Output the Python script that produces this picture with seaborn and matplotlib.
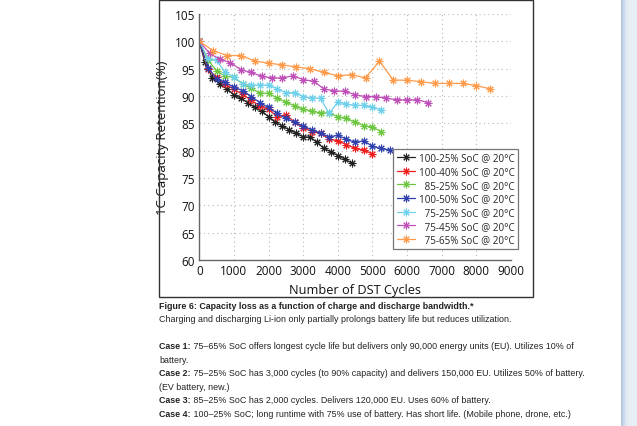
import numpy as np
import pandas as pd
import matplotlib
matplotlib.use("Agg")
import matplotlib.pyplot as plt
from matplotlib.patches import Rectangle
import seaborn as sns

# cycle positions / retention values
series_names = ["100-25% SoC @ 20°C", "100-40% SoC @ 20°C", "85-25% SoC @ 20°C",
                "100-50% SoC @ 20°C", "75-25% SoC @ 20°C", "75-45% SoC @ 20°C",
                "75-65% SoC @ 20°C"]
series_colors = ["#222222", "#f01c1c", "#6cc640", "#2f3fae", "#6ed0ea", "#bf4fb8", "#ff9a4a"]

cyc_100_25 = [0, 160, 380, 590, 790, 1000, 1200, 1400, 1600, 1800, 2000, 2200, 2400,
              2600, 2800, 3000, 3200, 3400, 3600, 3800, 4000, 4200, 4400]
ret_100_25 = [100, 96.2, 93.3, 92.2, 91.3, 90.2, 89.6, 88.8, 87.9, 87.2, 86.2, 85.2, 84.5,
              83.8, 83.2, 82.5, 82.5, 81.5, 80.4, 79.8, 79.1, 78.5, 77.7]

cyc_250 = [0, 250, 500, 750, 1000, 1250, 1500, 1750, 2000, 2250, 2500, 2750, 3000,
           3250, 3500, 3750, 4000, 4250, 4500, 4750, 5000, 5250, 5500]

cyc_100_40 = cyc_250[:21]
ret_100_40 = [100, 94.9, 93.4, 92.2, 91.2, 90.3, 89.2, 88.2, 87.6, 86.2, 86.6, 85.2, 84.2,
              83.5, 83.2, 82.1, 81.8, 81.1, 80.4, 80.1, 79.4]

cyc_85_25 = cyc_250[:22]
ret_85_25 = [100, 96.6, 94.6, 93.6, 93.4, 92.2, 91.4, 90.5, 90.5, 89.6, 88.9, 88.2, 87.6,
             87.2, 86.9, 86.9, 86.2, 85.9, 85.2, 84.6, 84.3, 83.5]

cyc_100_50 = cyc_250
ret_100_50 = [100, 95.2, 93.1, 92.5, 91.6, 91.0, 89.9, 88.8, 87.9, 86.8, 85.9, 85.2, 84.5,
              83.8, 83.2, 82.5, 82.8, 82.1, 81.5, 81.8, 80.8, 80.4, 80.1]

cyc_75_25 = cyc_250[:22]
ret_75_25 = [100, 96.9, 96.5, 94.3, 93.5, 92.2, 92.0, 92.0, 92.0, 91.3, 90.6, 90.6, 89.9,
             89.6, 89.6, 86.8, 88.9, 88.5, 88.3, 88.3, 87.9, 87.5]

cyc_75_45 = [0, 300, 600, 900, 1200, 1500, 1800, 2100, 2400, 2700, 3000, 3300, 3600,
             3900, 4200, 4500, 4800, 5100, 5400, 5700, 6000, 6300, 6600]
ret_75_45 = [100, 97.8, 96.7, 96.1, 94.8, 94.3, 93.6, 93.3, 93.3, 93.7, 93.0, 92.7, 91.3,
             90.9, 90.9, 90.2, 89.9, 89.9, 89.6, 89.3, 89.3, 89.3, 88.8]

cyc_75_65 = [0, 400, 800, 1200, 1600, 2000, 2400, 2800, 3200, 3600, 4000, 4400, 4800,
             5200, 5600, 6000, 6400, 6800, 7200, 7600, 8000, 8400]
ret_75_65 = [100, 98.3, 97.4, 97.4, 96.4, 96.0, 95.7, 95.3, 95.0, 94.3, 93.7, 93.9, 93.3,
             96.4, 92.9, 92.9, 92.6, 92.3, 92.3, 92.3, 91.9, 91.3]

all_cycles = [cyc_100_25, cyc_100_40, cyc_85_25, cyc_100_50, cyc_75_25, cyc_75_45, cyc_75_65]
all_ret = [ret_100_25, ret_100_40, ret_85_25, ret_100_50, ret_75_25, ret_75_45, ret_75_65]

x_ticks = [0, 1000, 2000, 3000, 4000, 5000, 6000, 7000, 8000, 9000]
y_ticks = [60, 65, 70, 75, 80, 85, 90, 95, 100, 105]

caption_title = "Figure 6: Capacity loss as a function of charge and discharge bandwidth.*"
caption_sub = "Charging and discharging Li-ion only partially prolongs battery life but reduces utilization."
case_lines = [
    ("Case 1:", " 75–65% SoC offers longest cycle life but delivers only 90,000 energy units (EU). Utilizes 10% of"),
    ("", "battery."),
    ("Case 2:", " 75–25% SoC has 3,000 cycles (to 90% capacity) and delivers 150,000 EU. Utilizes 50% of battery."),
    ("", "(EV battery, new.)"),
    ("Case 3:", " 85–25% SoC has 2,000 cycles. Delivers 120,000 EU. Uses 60% of battery."),
    ("Case 4:", " 100–25% SoC; long runtime with 75% use of battery. Has short life. (Mobile phone, drone, etc.)"),
]

sns.set_style("white")
plt.rcParams["font.family"] = ["Open Sans", "DejaVu Sans"]

W, H = 637, 427
fig = plt.figure(figsize=(W / 100, H / 100), dpi=100)
ax = fig.add_axes([199.3 / W, 1 - 261 / H, (511 - 199.3) / W, (261 - 15) / H])

frames = []
for name, xs, ys in zip(series_names, all_cycles, all_ret):
    frames.append(pd.DataFrame({"cycles": xs, "retention": ys, "series": name}))
df = pd.concat(frames, ignore_index=True)

for name, col in zip(series_names, series_colors):
    sub = df[df["series"] == name]
    # pad label so the legend texts end in line (like matlab)
    lab = name.rjust(18, "\u2007")
    sns.lineplot(data=sub, x="cycles", y="retention", ax=ax, color=col, lw=0.9,
                 marker=(8, 2, 0), markersize=5.5, markeredgecolor=col, markeredgewidth=0.75,
                 sort=False, estimator=None, label=lab)

ax.set_xlim(0, 9000)
ax.set_ylim(60, 105)
ax.set_xticks(x_ticks)
ax.set_yticks(y_ticks)
ax.grid(True, color="#b8b8b8", linestyle=(0, (1, 3)), linewidth=0.8)
for s in ["top", "right"]:
    ax.spines[s].set_visible(False)
for s in ["left", "bottom"]:
    ax.spines[s].set_color("#666666")
    ax.spines[s].set_linewidth(1.0)
ax.tick_params(direction="in", length=3, width=0.6, color="#666666", labelsize=8.5,
               labelcolor="#111111", pad=3)
ax.set_xlabel("Number of DST Cycles", fontsize=9.2, color="#111111", labelpad=4)
ax.set_ylabel("1C Capacity Retention(%)", fontsize=9.5, color="#111111", labelpad=4)

leg = ax.legend(loc="upper right", bbox_to_anchor=(1.038, 0.47), fontsize=7.1,
                handlelength=1.9, handletextpad=0.35, labelspacing=0.27,
                borderpad=0.33, frameon=True, fancybox=False, framealpha=1)
leg.get_frame().set_edgecolor("#777777")
leg.get_frame().set_linewidth(0.9)

# box around the chart
fig.add_artist(Rectangle((158.5 / W, 1 - 298 / H), (533.3 - 158.5) / W, (298 - 0.5) / H,
                         transform=fig.transFigure, fill=False, edgecolor="#333333", lw=1.0))

# caption text below
txt_kw = dict(fontsize=6.4, color="#222222", family=["Liberation Sans", "DejaVu Sans"],
              va="center")
fig.text(159.5 / W, 1 - 306.7 / H, caption_title, fontweight="bold", **txt_kw)
fig.text(159.5 / W, 1 - 320 / H, caption_sub, **txt_kw)
y_px = [346.7, 360.7, 373.5, 387.5, 401, 415]
for (head, rest), yp in zip(case_lines, y_px):
    if head:
        t = fig.text(159.5 / W, 1 - yp / H, head, fontweight="bold", **txt_kw)
        kw = dict(txt_kw)
        kw["va"] = "bottom"
        ax.annotate(rest, xy=(1, 0), xycoords=t, annotation_clip=False, **kw)
    else:
        fig.text(159.5 / W, 1 - yp / H, rest, **txt_kw)

# side strip on the right
sax = fig.add_axes([621 / W, 0, 16 / W, 1])
strip_cols = np.array([[0.72, 0.79, 0.88], [0.80, 0.86, 0.93], [0.87, 0.91, 0.96],
                       [0.90, 0.93, 0.96], [0.91, 0.94, 0.96], [0.91, 0.94, 0.96],
                       [0.91, 0.94, 0.96], [0.91, 0.94, 0.96]])
sax.imshow(strip_cols[np.newaxis, :, :], aspect="auto", extent=(0, 1, 0, 1))
sax.set_axis_off()

fig.savefig("out.png", dpi=100)
